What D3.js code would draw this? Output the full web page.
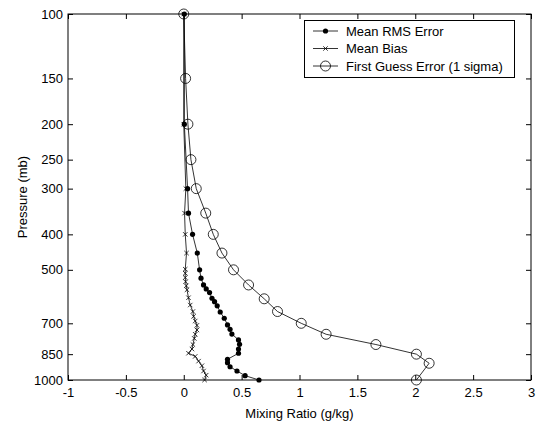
<!DOCTYPE html>
<html>
<head>
<meta charset="utf-8">
<script src="https://cdn.jsdelivr.net/npm/d3@7"></script>
<style>
  body { margin: 0; background: #fff; }
  text { font-family: "Liberation Sans", Arial, Helvetica, sans-serif; fill: #000; }
</style>
</head>
<body>
<div id="chart"></div>
<script>
// pressure levels (mb) and mixing ratio values (g/kg)
var rmsLevels = [100, 200, 300, 350, 400, 450, 500, 527, 550, 564, 577, 598, 611, 627, 652, 678, 707, 727, 749, 777, 799, 823, 845, 878, 897, 920, 945, 973, 1000];
var rmsValues = [0.005, 0.005, 0.033, 0.041, 0.076, 0.117, 0.137, 0.149, 0.171, 0.194, 0.223, 0.244, 0.266, 0.289, 0.315, 0.35, 0.378, 0.40, 0.416, 0.473, 0.482, 0.473, 0.473, 0.378, 0.378, 0.40, 0.46, 0.53, 0.65];

var biasLevels = [100, 200, 300, 350, 400, 450, 498, 511, 525, 539, 553, 567, 596, 624, 650, 670, 690, 709, 730, 750, 770, 800, 823, 845, 862, 888, 914, 945, 970, 1000];
var biasValues = [0.0, 0.0, 0.018, 0.007, 0.013, 0.024, 0.013, 0.013, 0.013, 0.016, 0.022, 0.028, 0.041, 0.056, 0.079, 0.085, 0.099, 0.114, 0.114, 0.099, 0.091, 0.079, 0.071, 0.041, 0.099, 0.128, 0.157, 0.171, 0.194, 0.18];

var fgLevels = [100, 150, 200, 250, 300, 350, 400, 450, 500, 550, 600, 650, 700, 750, 800, 850, 900, 1000];
var fgValues = [0.0, 0.016, 0.036, 0.062, 0.108, 0.19, 0.255, 0.33, 0.43, 0.56, 0.695, 0.81, 1.015, 1.23, 1.66, 2.01, 2.12, 2.01];

var xTicks = [-1, -0.5, 0, 0.5, 1, 1.5, 2, 2.5, 3];
var yTicks = [100, 150, 200, 250, 300, 400, 500, 700, 850, 1000];

var legendLabels = ['Mean RMS Error', 'Mean Bias', 'First Guess Error (1 sigma)'];

var width = 539, height = 421;
var margin = {top: 14, right: 8, bottom: 41, left: 68};
var fontSize = "13px";

var svg = d3.select("#chart").append("svg")
  .attr("width", width)
  .attr("height", height);

var x = d3.scaleLinear().domain([-1, 3]).range([margin.left, width - margin.right]);
var y = d3.scaleLog().domain([100, 1000]).range([margin.top, height - margin.bottom]);

// frame
svg.append("rect")
  .attr("x", x(-1)).attr("y", y(100))
  .attr("width", x(3) - x(-1)).attr("height", y(1000) - y(100))
  .attr("fill", "none").attr("stroke", "#000").attr("stroke-width", 1);

var fmtX = function(d) { return String(d); };

function styleAxis(g) {
  g.select(".domain").remove();
  g.selectAll(".tick line").attr("stroke", "#000");
  g.selectAll(".tick text").attr("font-size", fontSize).attr("fill", "#000")
    .attr("font-family", "'Liberation Sans', Arial, sans-serif");
}

svg.append("g")
  .attr("transform", "translate(0," + y(1000) + ")")
  .call(d3.axisBottom(x).tickValues(xTicks).tickFormat(fmtX).tickSizeInner(-5).tickSizeOuter(0).tickPadding(8))
  .call(styleAxis);

svg.append("g")
  .attr("transform", "translate(0," + y(100) + ")")
  .call(d3.axisTop(x).tickValues(xTicks).tickFormat("").tickSizeInner(-5).tickSizeOuter(0))
  .call(styleAxis);

svg.append("g")
  .attr("transform", "translate(" + x(-1) + ",0)")
  .call(d3.axisLeft(y).tickValues(yTicks).tickFormat(d3.format("d")).tickSizeInner(-5).tickSizeOuter(0).tickPadding(5))
  .call(styleAxis);

svg.append("g")
  .attr("transform", "translate(" + x(3) + ",0)")
  .call(d3.axisRight(y).tickValues(yTicks).tickFormat("").tickSizeInner(-5).tickSizeOuter(0))
  .call(styleAxis);

// axis labels
svg.append("text")
  .attr("x", (x(-1) + x(3)) / 2)
  .attr("y", 418)
  .attr("text-anchor", "middle")
  .attr("font-size", fontSize)
  .text("Mixing Ratio (g/kg)");

svg.append("text")
  .attr("transform", "translate(27," + (y(100) + y(1000)) / 2 + ") rotate(-90)")
  .attr("text-anchor", "middle")
  .attr("font-size", fontSize)
  .text("Pressure (mb)");

var line = d3.line()
  .x(function(d) { return x(d.v); })
  .y(function(d) { return y(d.p); });

function pairs(levels, values) {
  return levels.map(function(p, i) { return {p: p, v: values[i]}; });
}

var rms = pairs(rmsLevels, rmsValues);
var bias = pairs(biasLevels, biasValues);
var fg = pairs(fgLevels, fgValues);

var plot = svg.append("g");

plot.append("path").datum(fg).attr("d", line)
  .attr("fill", "none").attr("stroke", "#000").attr("stroke-width", 0.8);
plot.append("path").datum(bias).attr("d", line)
  .attr("fill", "none").attr("stroke", "#000").attr("stroke-width", 0.8);
plot.append("path").datum(rms).attr("d", line)
  .attr("fill", "none").attr("stroke", "#000").attr("stroke-width", 0.8);

function drawCircle(g, cx, cy) {
  g.append("circle").attr("cx", cx).attr("cy", cy).attr("r", 5)
    .attr("fill", "none").attr("stroke", "#000").attr("stroke-width", 0.8);
}
function drawDot(g, cx, cy) {
  g.append("circle").attr("cx", cx).attr("cy", cy).attr("r", 2.6).attr("fill", "#000");
}
function drawX(g, cx, cy) {
  var s = 2.2;
  g.append("path")
    .attr("d", "M" + (cx - s) + "," + (cy - s) + "L" + (cx + s) + "," + (cy + s) +
               "M" + (cx - s) + "," + (cy + s) + "L" + (cx + s) + "," + (cy - s))
    .attr("stroke", "#000").attr("stroke-width", 0.8);
}

fg.forEach(function(d) { drawCircle(plot, x(d.v), y(d.p)); });
bias.forEach(function(d) { drawX(plot, x(d.v), y(d.p)); });
rms.forEach(function(d) { drawDot(plot, x(d.v), y(d.p)); });

// legend
var lg = svg.append("g");
lg.append("rect")
  .attr("x", 304.5).attr("y", 20.5).attr("width", 210).attr("height", 57)
  .attr("fill", "#fff").attr("stroke", "#000").attr("stroke-width", 1);

var markers = [drawDot, drawX, drawCircle];
legendLabels.forEach(function(lab, i) {
  var cy = 31 + i * 17.5;
  lg.append("line").attr("x1", 313).attr("x2", 338).attr("y1", cy).attr("y2", cy)
    .attr("stroke", "#000").attr("stroke-width", 0.8);
  markers[i](lg, 325.5, cy);
  lg.append("text").attr("x", 346).attr("y", cy + 4.5)
    .attr("font-size", fontSize).text(lab);
});
</script>
</body>
</html>
